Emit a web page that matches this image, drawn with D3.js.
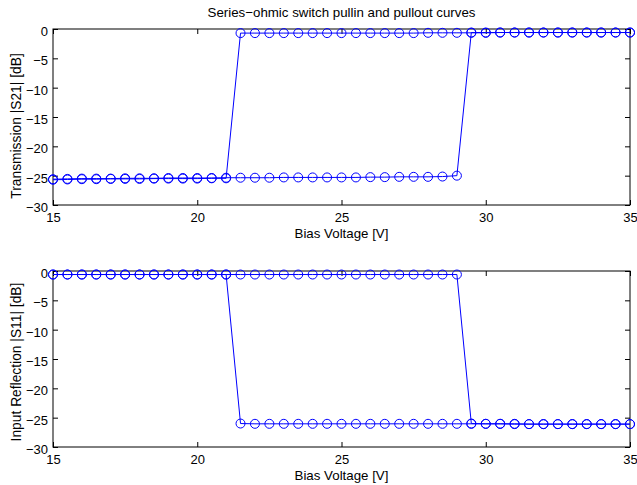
<!DOCTYPE html>
<html>
<head>
<meta charset="utf-8">
<script src="https://cdn.jsdelivr.net/npm/d3@7"></script>
<style>
  html, body { margin: 0; padding: 0; background: #fff; }
  svg { display: block; font-family: "Liberation Sans", Arial, Helvetica, sans-serif; }
</style>
</head>
<body>
<svg id="chart" width="637" height="485"></svg>
<script>
// ---------- Data ----------
const voltsUp = d3.range(15, 35.001, 0.5);            // pull-in sweep (15 → 35 V)
const voltsDown = d3.range(35, 14.999, -0.5);         // pull-out sweep (35 → 15 V)

// |S21| [dB], pull-in sweep (15 → 35 V)
const s21PullIn = [
  -25.6, -25.55, -25.5, -25.5, -25.5, -25.45, -25.45, -25.45, -25.4, -25.4,
  -25.4, -25.4, -25.35, -25.35, -25.35, -25.35, -25.3, -25.3, -25.3, -25.3,
  -25.3, -25.3, -25.25, -25.25, -25.2, -25.2, -25.2, -25.15, -25.0,
  -0.6, -0.6, -0.6, -0.6, -0.6, -0.6, -0.6, -0.6, -0.6, -0.6, -0.6, -0.6
];
// |S21| [dB], pull-out sweep (35 → 15 V)
const s21PullOut = [
  -0.6, -0.6, -0.6, -0.6, -0.6, -0.6, -0.6, -0.6, -0.6, -0.6,
  -0.65, -0.65, -0.65, -0.65, -0.65, -0.7, -0.7, -0.7, -0.7, -0.7,
  -0.7, -0.7, -0.7, -0.7, -0.7, -0.7, -0.7, -0.7,
  -25.45, -25.45, -25.5, -25.5, -25.5, -25.5, -25.55, -25.55, -25.55, -25.6, -25.6, -25.65, -25.7
];
// |S11| [dB], pull-in sweep (15 → 35 V)
const s11PullIn = [
  -0.6, -0.6, -0.6, -0.6, -0.6, -0.6, -0.6, -0.6, -0.6, -0.6,
  -0.6, -0.6, -0.6, -0.6, -0.6, -0.6, -0.6, -0.6, -0.6, -0.6,
  -0.6, -0.6, -0.6, -0.6, -0.6, -0.6, -0.6, -0.6, -0.6,
  -26.0, -26.05, -26.05, -26.05, -26.1, -26.1, -26.1, -26.1, -26.1, -26.1, -26.1, -26.1
];
// |S11| [dB], pull-out sweep (35 → 15 V)
const s11PullOut = [
  -26.1, -26.1, -26.1, -26.1, -26.1, -26.1, -26.1, -26.1, -26.1, -26.05,
  -26.05, -26.05, -26.05, -26.05, -26.05, -26.05, -26.05, -26.05, -26.05, -26.05,
  -26.05, -26.05, -26.05, -26.05, -26.05, -26.05, -26.05, -26.0,
  -0.6, -0.6, -0.6, -0.6, -0.6, -0.6, -0.6, -0.6, -0.6, -0.6, -0.6, -0.6, -0.6
];

const xTicks = [15, 20, 25, 30, 35];
const yTicks = [0, -5, -10, -15, -20, -25, -30];
const titleText = "Series\u2212ohmic switch pullin and pullout curves";
const xLabel = "Bias Voltage [V]";
const yLabels = ["Transmission |S21| [dB]", "Input Reflection |S11| [dB]"];

// ---------- Drawing ----------
const svg = d3.select("#chart");
const color = "#0000ff";
const fmt = d => (d < 0 ? "\u2212" + Math.abs(d) : String(d));

const panels = [
  { top: 29, bottom: 205, pullIn: s21PullIn, pullOut: s21PullOut, ylabel: yLabels[0], ylabelY: 126 },
  { top: 271, bottom: 447, pullIn: s11PullIn, pullOut: s11PullOut, ylabel: yLabels[1], ylabelY: 362 }
];
const left = 53, right = 630, tickLen = 5;

svg.append("text")
  .attr("x", (left + right) / 2).attr("y", 17)
  .attr("text-anchor", "middle").attr("font-size", 13.3)
  .text(titleText);

panels.forEach(p => {
  const x = d3.scaleLinear().domain([15, 35]).range([left, right]);
  const y = d3.scaleLinear().domain([-30, 0]).range([p.bottom, p.top]);
  const g = svg.append("g");

  const fs = 13;
  const xb = g.append("g").attr("transform", `translate(0,${p.bottom})`)
    .call(d3.axisBottom(x).tickValues(xTicks).tickSizeInner(-tickLen).tickSizeOuter(0).tickPadding(tickLen + 3).tickFormat(fmt));
  const xt = g.append("g").attr("transform", `translate(0,${p.top})`)
    .call(d3.axisTop(x).tickValues(xTicks).tickSizeInner(-tickLen).tickSizeOuter(0).tickFormat(""));
  const yl = g.append("g").attr("transform", `translate(${left},0)`)
    .call(d3.axisLeft(y).tickValues(yTicks).tickSizeInner(-tickLen).tickSizeOuter(0).tickPadding(tickLen).tickFormat(fmt));
  const yr = g.append("g").attr("transform", `translate(${right},0)`)
    .call(d3.axisRight(y).tickValues(yTicks).tickSizeInner(-tickLen).tickSizeOuter(0).tickFormat(""));
  [xb, xt, yl, yr].forEach(a => {
    a.select(".domain").remove();
    a.selectAll("line").attr("stroke", "#000").attr("stroke-width", 1);
    a.selectAll("text").attr("font-size", fs).attr("fill", "#000")
      .attr("font-family", "'Liberation Sans', Arial, Helvetica, sans-serif");
  });
  yl.selectAll("text").attr("dy", "0.5em");

  // box
  g.append("rect").attr("x", left).attr("y", p.top)
    .attr("width", right - left).attr("height", p.bottom - p.top)
    .attr("fill", "none").attr("stroke", "#000").attr("stroke-width", 1);

  // axis labels
  g.append("text").attr("x", (left + right) / 2).attr("y", p.bottom + 33)
    .attr("text-anchor", "middle").attr("font-size", 13.3).text(xLabel);
  g.append("text")
    .attr("transform", `translate(21,${p.ylabelY}) rotate(-90)`)
    .attr("text-anchor", "middle").attr("font-size", 13.8).text(p.ylabel);

  const line = d3.line().x(d => x(d[0])).y(d => y(d[1]));
  const series = [
    voltsUp.map((v, i) => [v, p.pullIn[i]]),
    voltsDown.map((v, i) => [v, p.pullOut[i]])
  ];
  series.forEach(s => {
    g.append("path").datum(s).attr("d", line)
      .attr("fill", "none").attr("stroke", color).attr("stroke-width", 1);
    g.selectAll(null).data(s).enter().append("circle")
      .attr("cx", d => x(d[0])).attr("cy", d => y(d[1])).attr("r", 4.5)
      .attr("fill", "none").attr("stroke", color).attr("stroke-width", 1);
  });
});
</script>
</body>
</html>
